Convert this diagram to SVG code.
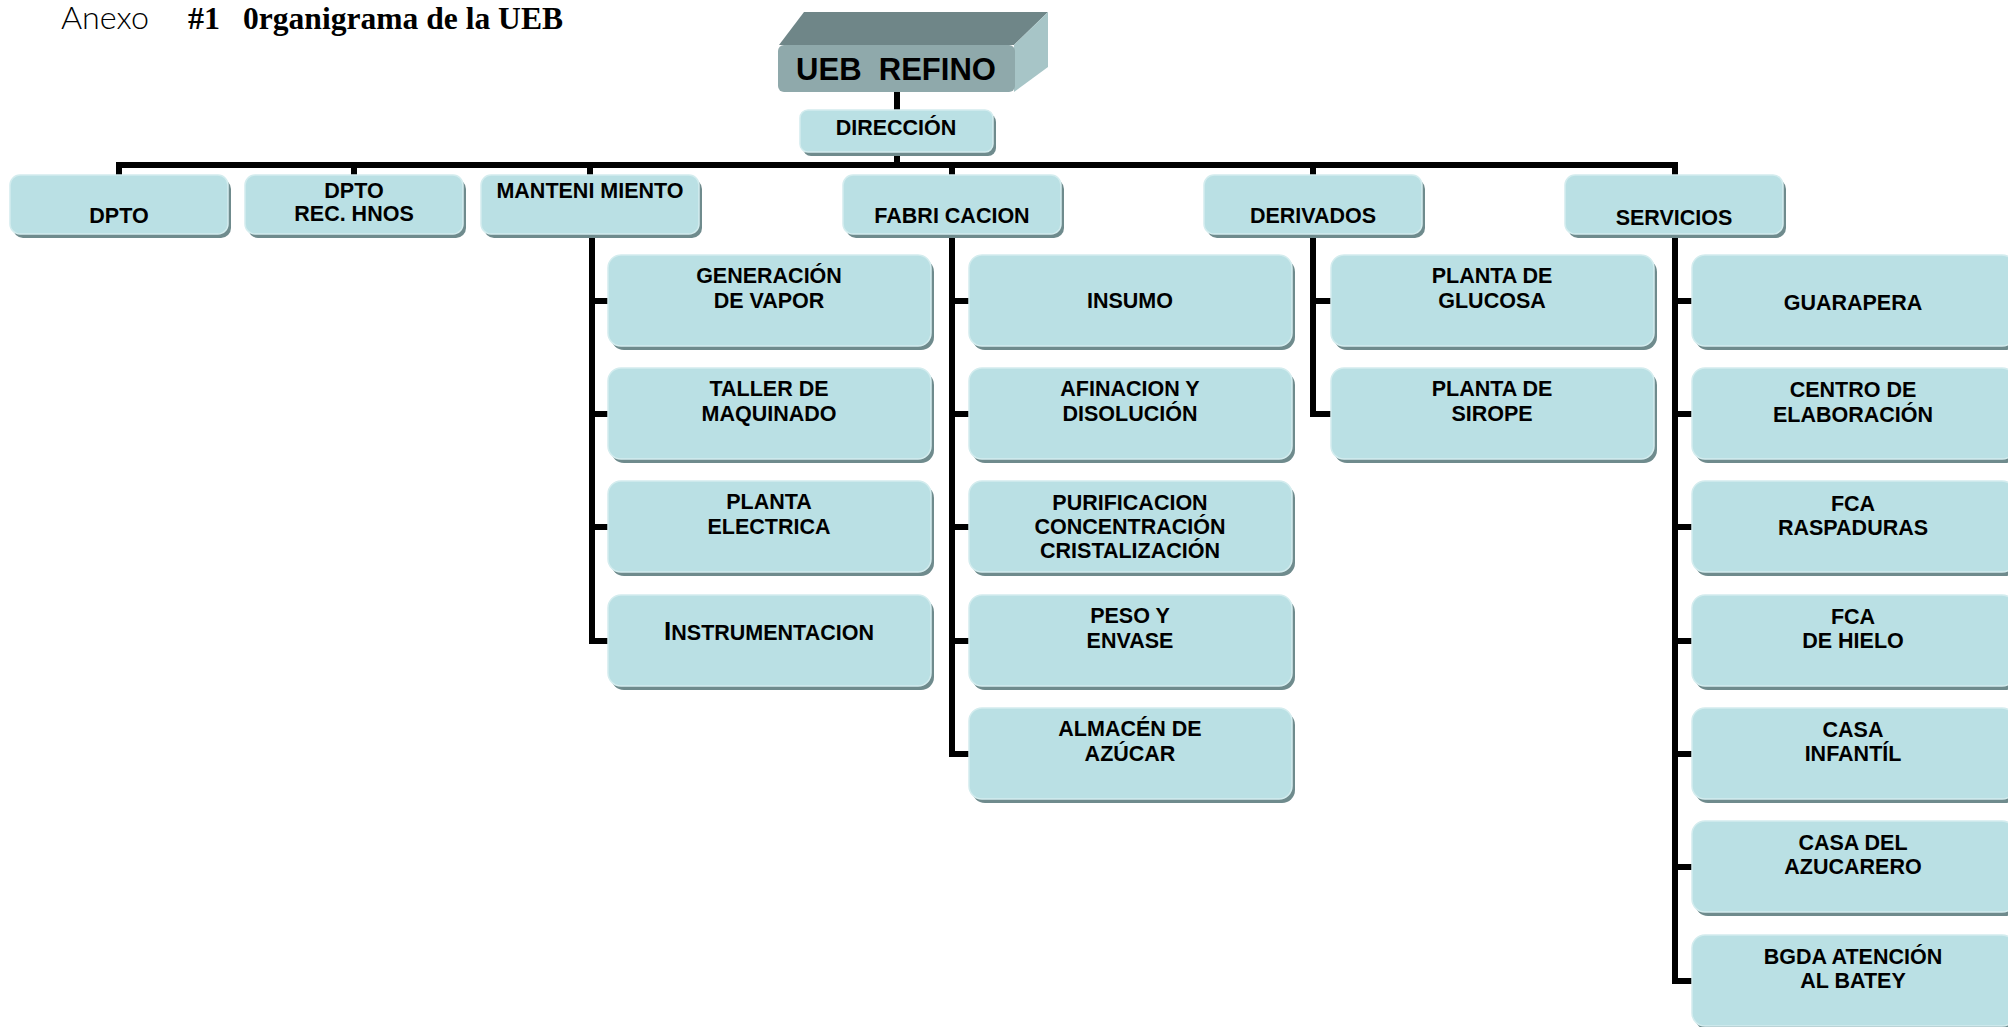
<svg xmlns="http://www.w3.org/2000/svg" width="2008" height="1027" viewBox="0 0 2008 1027">
  <style>
    .sh { fill:#6f8b8d; }
    .box { fill:#bae0e4; stroke:#d3ecee; stroke-width:1.5; }
    .t { font-family:"Liberation Sans", Arial, sans-serif; font-weight:bold; font-size:21.5px; fill:#000; text-anchor:middle; }
    .ln { stroke:#000; stroke-width:6; fill:none; stroke-linejoin:miter; stroke-linecap:butt; }
  </style>
  <defs>
    <g id="b1"><rect class="sh" x="3" y="4" width="218" height="59" rx="10"/><rect class="box" x="0" y="0" width="218" height="59" rx="10"/></g>
    <g id="b2"><rect class="sh" x="3" y="4" width="323" height="91" rx="13"/><rect class="box" x="0" y="0" width="323" height="91" rx="13"/></g>
  </defs>

  <!-- heading -->
  <g id="title">
    <text x="61" y="29" font-family="Lato, 'Open Sans', sans-serif" font-weight="300" font-size="32" textLength="88" lengthAdjust="spacingAndGlyphs">Anexo</text>
    <text x="188" y="29" font-family="'Liberation Serif', 'Times New Roman', serif" font-weight="bold" font-size="32" textLength="32" lengthAdjust="spacingAndGlyphs">#1</text>
    <text x="243" y="29" font-family="'Liberation Serif', 'Times New Roman', serif" font-weight="bold" font-size="32" textLength="320" lengthAdjust="spacingAndGlyphs">0rganigrama de la UEB</text>
  </g>

  <!-- connectors -->
  <g id="connectors" class="ln">
    <path d="M897,92 V111 M897,155 V165"/>
    <path d="M119,175 V165 H1675 V175"/>
    <path d="M354,165 V175 M590,165 V175 M952,165 V175 M1313,165 V175"/>
    <path d="M592,238 V641 H608 M592,301 H608 M592,414 H608 M592,527 H608"/>
    <path d="M952,238 V754 H969 M952,301 H969 M952,414 H969 M952,527 H969 M952,641 H969"/>
    <path d="M1313,238 V414 H1331 M1313,301 H1331"/>
    <path d="M1675,238 V981 H1692 M1675,301 H1692 M1675,414 H1692 M1675,527 H1692 M1675,641 H1692 M1675,754 H1692 M1675,867 H1692"/>
  </g>

  <!-- top unit block -->
  <g id="ueb-refino">
    <polygon points="779,45 804,12 1048,12 1014,45" fill="#6f8688"/>
    <polygon points="1014,45 1048,12 1048,67 1014,92" fill="#a7c5c7"/>
    <rect x="778" y="45" width="237" height="47" rx="6" fill="#8fa9ab"/>
    <text class="t" x="896" y="80" style="font-size:31px" xml:space="preserve">UEB  REFINO</text>
  </g>

  <g id="direccion">
    <rect class="sh" x="803" y="114" width="193" height="42" rx="8"/>
    <rect class="box" x="800" y="110" width="193" height="42" rx="8"/>
    <text class="t" x="896" y="135">DIRECCIÓN</text>
  </g>

  <!-- first level -->
  <g id="dpto"><use href="#b1" x="10" y="175"/><text class="t" x="119" y="223">DPTO</text></g>
  <g id="dpto-rec"><use href="#b1" x="245" y="175"/><text class="t" x="354" y="198">DPTO</text><text class="t" x="354" y="221">REC. HNOS</text></g>
  <g id="mantenimiento"><use href="#b1" x="481" y="175"/><text class="t" x="590" y="198">MANTENI MIENTO</text></g>
  <g id="fabricacion"><use href="#b1" x="843" y="175"/><text class="t" x="952" y="223">FABRI CACION</text></g>
  <g id="derivados"><use href="#b1" x="1204" y="175"/><text class="t" x="1313" y="223">DERIVADOS</text></g>
  <g id="servicios"><use href="#b1" x="1565" y="175"/><text class="t" x="1674" y="225">SERVICIOS</text></g>

  <!-- mantenimiento -->
  <g id="generacion"><use href="#b2" x="608" y="255"/><text class="t" x="769" y="283">GENERACIÓN</text><text class="t" x="769" y="308">DE VAPOR</text></g>
  <g id="taller"><use href="#b2" x="608" y="368"/><text class="t" x="769" y="396">TALLER DE</text><text class="t" x="769" y="421">MAQUINADO</text></g>
  <g id="planta-electrica"><use href="#b2" x="608" y="481"/><text class="t" x="769" y="509">PLANTA</text><text class="t" x="769" y="534">ELECTRICA</text></g>
  <g id="instrumentacion"><use href="#b2" x="608" y="595"/><text class="t" x="769" y="640"><tspan style="font-size:26px">I</tspan>NSTRUMENTACION</text></g>

  <!-- fabricacion -->
  <g id="insumo"><use href="#b2" x="969" y="255"/><text class="t" x="1130" y="308">INSUMO</text></g>
  <g id="afinacion"><use href="#b2" x="969" y="368"/><text class="t" x="1130" y="396">AFINACION Y</text><text class="t" x="1130" y="421">DISOLUCIÓN</text></g>
  <g id="purificacion"><use href="#b2" x="969" y="481"/><text class="t" x="1130" y="510">PURIFICACION</text><text class="t" x="1130" y="534">CONCENTRACIÓN</text><text class="t" x="1130" y="558">CRISTALIZACIÓN</text></g>
  <g id="peso"><use href="#b2" x="969" y="595"/><text class="t" x="1130" y="623">PESO Y</text><text class="t" x="1130" y="648">ENVASE</text></g>
  <g id="almacen"><use href="#b2" x="969" y="708"/><text class="t" x="1130" y="736">ALMACÉN DE</text><text class="t" x="1130" y="761">AZÚCAR</text></g>

  <!-- derivados -->
  <g id="glucosa"><use href="#b2" x="1331" y="255"/><text class="t" x="1492" y="283">PLANTA DE</text><text class="t" x="1492" y="308">GLUCOSA</text></g>
  <g id="sirope"><use href="#b2" x="1331" y="368"/><text class="t" x="1492" y="396">PLANTA DE</text><text class="t" x="1492" y="421">SIROPE</text></g>

  <!-- servicios -->
  <g id="guarapera"><use href="#b2" x="1692" y="255"/><text class="t" x="1853" y="310">GUARAPERA</text></g>
  <g id="centro"><use href="#b2" x="1692" y="368"/><text class="t" x="1853" y="397">CENTRO DE</text><text class="t" x="1853" y="422">ELABORACIÓN</text></g>
  <g id="raspaduras"><use href="#b2" x="1692" y="481"/><text class="t" x="1853" y="511">FCA</text><text class="t" x="1853" y="535">RASPADURAS</text></g>
  <g id="hielo"><use href="#b2" x="1692" y="595"/><text class="t" x="1853" y="624">FCA</text><text class="t" x="1853" y="648">DE HIELO</text></g>
  <g id="casa-infantil"><use href="#b2" x="1692" y="708"/><text class="t" x="1853" y="737">CASA</text><text class="t" x="1853" y="761">INFANTÍL</text></g>
  <g id="casa-azucarero"><use href="#b2" x="1692" y="821"/><text class="t" x="1853" y="850">CASA DEL</text><text class="t" x="1853" y="874">AZUCARERO</text></g>
  <g id="bgda"><use href="#b2" x="1692" y="935"/><text class="t" x="1853" y="964">BGDA ATENCIÓN</text><text class="t" x="1853" y="988">AL BATEY</text></g>
</svg>
